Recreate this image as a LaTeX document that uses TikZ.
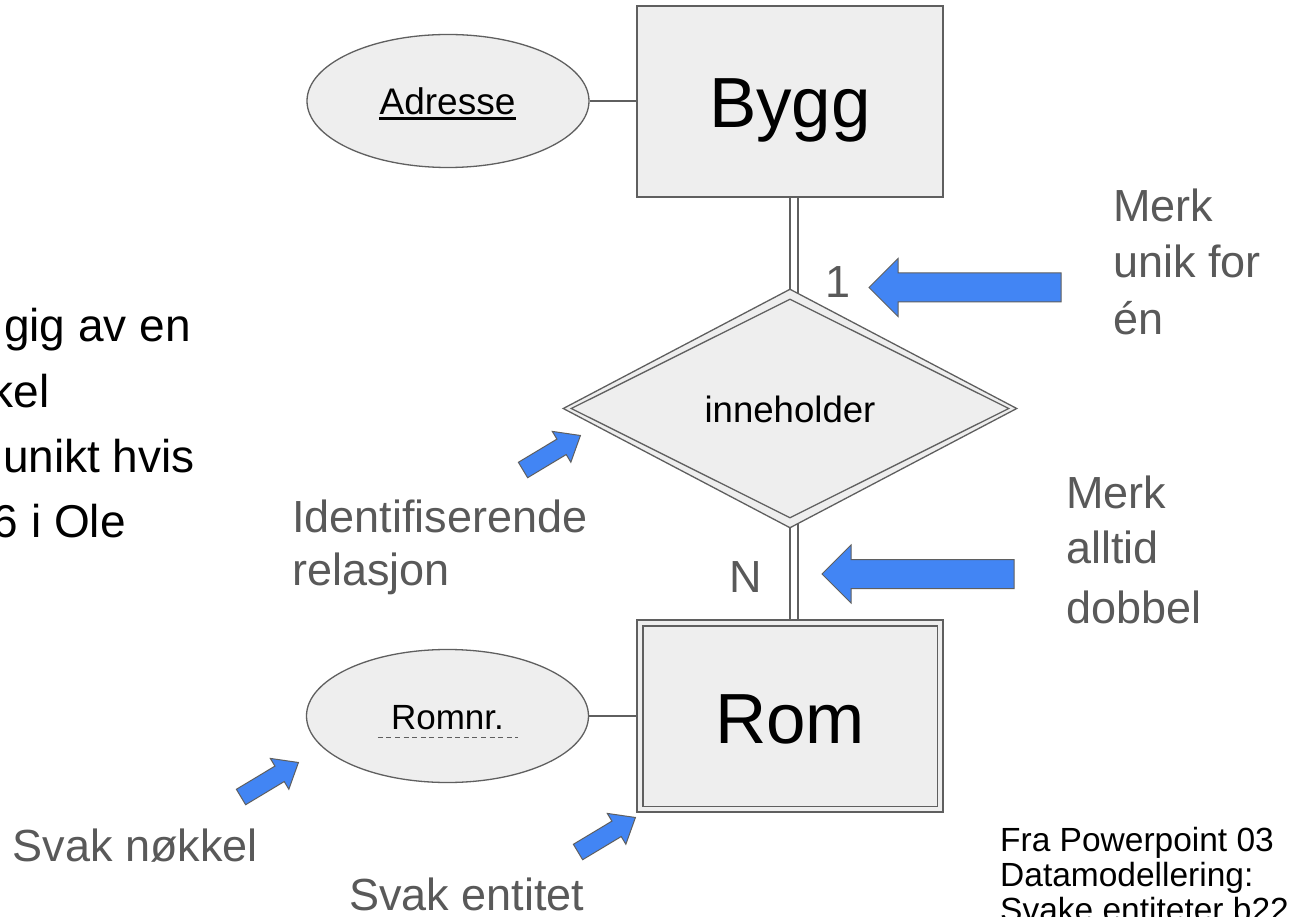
\documentclass[tikz,border=0pt]{standalone}
\usepackage{fontspec}
\setmainfont{Liberation Sans}
\usetikzlibrary{shapes.geometric}

\definecolor{shapefill}{HTML}{EEEEEE}
\definecolor{edgegray}{HTML}{5F5F5F}
\definecolor{notegray}{HTML}{595959}
\definecolor{pointblue}{HTML}{4285F4}

\tikzset{
  entity/.style={rectangle, draw=edgegray, fill=shapefill, line width=1.3pt,
    minimum width=306pt, minimum height=191pt, inner sep=0pt},
  attrib/.style={ellipse, draw=edgegray, fill=shapefill, line width=1.3pt,
    minimum width=282pt, minimum height=133pt, inner sep=0pt},
  link/.style={draw=edgegray, line width=1.3pt},
  doublelink/.style={draw=edgegray, line width=1.3pt, double=white, double distance=6.5pt},
  pointer/.style={fill=pointblue, draw=edgegray, line width=1pt, line join=miter},
  notetext/.style={text=notegray, inner sep=0pt, font=\fontsize{45pt}{54pt}\selectfont},
  bodytext/.style={text=black, inner sep=0pt, anchor=base east, font=\fontsize{46pt}{55pt}\selectfont},
  sourcetext/.style={text=black, inner sep=0pt, anchor=base west, font=\fontsize{33.5pt}{40pt}\selectfont},
  pics/bigpointer/.style={code={
    \draw[pointer] (0,-14.5) -- (163,-14.5) -- (163,-29) -- (192,0)
      -- (163,29) -- (163,14.5) -- (0,14.5) -- cycle;
  }},
  pics/smallpointer/.style={code={
    \draw[pointer] (0,-9) -- (45,-9) -- (45,-18) -- (67,0)
      -- (45,18) -- (45,9) -- (0,9) -- cycle;
  }},
}

\begin{document}
\begin{tikzpicture}[x=1pt, y=-1pt]
  \path[use as bounding box] (0,0) rectangle (1310,917);
  \fill[white] (0,0) rectangle (1310,917);
  \clip (0,0) rectangle (1310,917);

  % entities, relation and attributes
  \node[entity] (bygg) at (790,101.5) {};
  \node[entity, minimum height=192pt] (rom) at (790,716) {};
  \node[attrib] (adresse) at (448,101) {};
  \node[attrib] (romnr) at (447.5,716) {};

  % connectors (drawn under the relation diamond)
  \draw[doublelink] ([xshift=4pt]bygg.south) -- ([xshift=4pt,yshift=-4pt]bygg.south |- 0,289);
  \draw[doublelink] ([xshift=4pt]rom.north) -- ([xshift=4pt,yshift=4pt]rom.north |- 0,528);

  \node[diamond, draw=edgegray, fill=shapefill, line width=1.3pt, inner sep=0pt,
        minimum width=454pt, minimum height=239pt] (rel) at (790,408.5) {};
  \node[diamond, draw=edgegray, line width=1.3pt, inner sep=0pt,
        minimum width=438pt, minimum height=219pt] (relin) at (790,408.5) {};

  \draw[link] (adresse.east) -- (adresse.east -| bygg.west);
  \draw[link] (romnr.east) -- (romnr.east -| rom.west);

  % weak entity: inner border
  \draw[link] ([shift={(6.5,6.5)}]rom.north west) rectangle ([shift={(-6.5,-6.5)}]rom.south east);

  % labels inside shapes
  \node[inner sep=0pt, anchor=base, font=\fontsize{71pt}{80pt}\selectfont] (byggtxt) at (790,128) {Bygg};
  \node[inner sep=0pt, anchor=base, font=\fontsize{71pt}{80pt}\selectfont] (romtxt) at (790,743) {Rom};
  \node[inner sep=0pt, anchor=base, font=\fontsize{36.6pt}{44pt}\selectfont] (reltxt) at (790,422) {inneholder};
  \node[inner sep=0pt, anchor=base, font=\fontsize{37pt}{44pt}\selectfont] (adrtxt) at (447.5,115) {Adresse};
  \node[inner sep=0pt, anchor=base, font=\fontsize{35pt}{42pt}\selectfont] (romnrtxt) at (447.5,729) {Romnr.};

  % key underlines
  \draw[black, line width=3pt] ([yshift=-4pt]adrtxt.base west) -- ([yshift=-4pt]adrtxt.base east);
  \draw[edgegray, line width=1pt, dash pattern=on 5pt off 3.6pt]
    ([xshift=-13pt,yshift=-8pt]romnrtxt.base west) -- ([xshift=14pt,yshift=-8pt]romnrtxt.base east);

  % cardinalities
  \node[notetext, anchor=base west] (card1) at (825,298) {1};
  \node[notetext, anchor=base west] (cardn) at (729,592) {N};

  % pointers
  \pic[rotate=180] at (1061,287.5) {bigpointer};
  \pic[rotate=180] at (1014,574) {bigpointer};
  \pic[rotate=31] at (523,470) {smallpointer};
  \pic[rotate=31] at (241,797) {smallpointer};
  \pic[rotate=31] at (578,852) {smallpointer};

  % annotations
  \node[notetext, anchor=base west] (uniq1) at (1113,222) {Merk};
  \node[notetext, anchor=base west] (uniq2) at (1113,278) {unik for};
  \node[notetext, anchor=base west] (uniq3) at (1113,335) {én};
  \node[notetext, anchor=base west] (dbl1) at (1066,508) {Merk};
  \node[notetext, anchor=base west] (dbl2) at (1066,563) {alltid};
  \node[notetext, anchor=base west] (dbl3) at (1066,623) {dobbel};
  \node[notetext, anchor=base west] (ident1) at (292,532) {Identifiserende};
  \node[notetext, anchor=base west] (ident2) at (292,585) {relasjon};
  \node[notetext, anchor=base east] (weakkey) at (258,861) {Svak nøkkel};
  \node[notetext, anchor=base west] (weakent) at (349,910) {Svak entitet};

  % body text running in from the left
  \node[bodytext] (body1) at (191,342) {gig av en};
  \node[bodytext] (body2) at (50,407) {kel};
  \node[bodytext] (body3) at (195,472) {unikt hvis};
  \node[bodytext] (body4) at (126,537) {6 i Ole};

  % source
  \node[sourcetext] (src1) at (1000,851) {Fra Powerpoint 03};
  \node[sourcetext] (src2) at (1000,886) {Datamodellering:};
  \node[sourcetext] (src3) at (1000,921) {Svake entiteter b22};
\end{tikzpicture}
\end{document}
